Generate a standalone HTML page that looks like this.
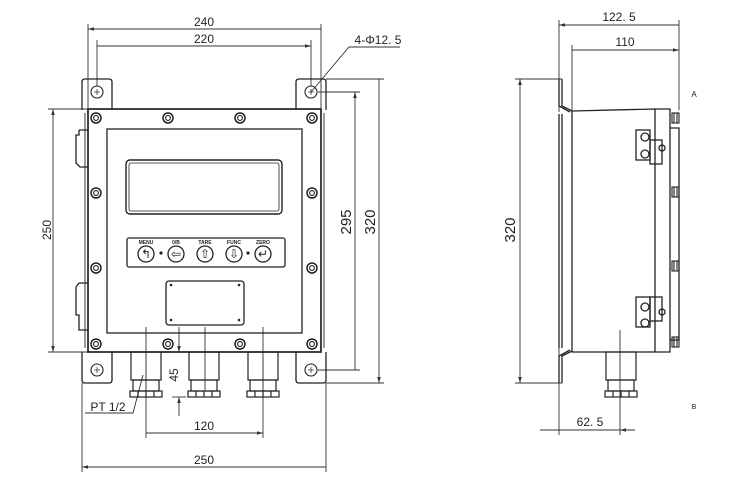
<!DOCTYPE html>
<html><head><meta charset="utf-8"><style>
html,body{margin:0;padding:0;background:#fff;}
svg{display:block;}
text{font-family:"Liberation Sans",sans-serif;fill:#222;}
</style></head><body>
<svg width="756" height="492" viewBox="0 0 756 492" xmlns="http://www.w3.org/2000/svg">
<defs>
<marker id="a" viewBox="0 0 10 6" refX="10" refY="3" markerWidth="9" markerHeight="4" orient="auto-start-reverse"><path d="M0,0L10,3L0,6z" fill="#333"/></marker>
<g id="scr"><circle r="5" fill="none" stroke="#222" stroke-width="1.5"/><circle r="2.4" fill="none" stroke="#222" stroke-width="1.1"/></g>
<g id="hole"><circle r="6" fill="none" stroke="#222" stroke-width="1.1"/><path d="M-3,0h6M0,-3v6" stroke="#333" stroke-width="0.8"/></g>
<g id="gland" fill="none" stroke="#222" stroke-width="1.2">
<rect x="0" y="0" width="30" height="28"/><rect x="2" y="28" width="26" height="11"/>
<rect x="-1" y="39" width="32" height="6"/><path d="M7,39v6M15,39v6M23,39v6"/></g>
<g id="knob" fill="none" stroke="#222" stroke-width="1.1"><rect x="0" y="-5" width="7" height="10"/><path d="M2,-5v10M5,-5v10"/></g>
</defs>
<g fill="none" stroke="#333" stroke-width="0.9">
<path d="M88,24V108M321,24V108M97,40V86M311,40V86"/>
<path d="M88,29H321M97,46H311" marker-start="url(#a)" marker-end="url(#a)"/>
<path d="M48,109H88M48,352H88"/>
<path d="M53,109V352" marker-start="url(#a)" marker-end="url(#a)"/>
<path d="M318,92H360M318,370H360M326,79H384M326,383H384"/>
<path d="M355,92V370M379,79V383" marker-start="url(#a)" marker-end="url(#a)"/>
<path d="M311,92L349,47H400"/>
<path d="M82,383V472M326,383V472M146,327V438M263,327V438"/>
<path d="M82,467H326M146,433H263" marker-start="url(#a)" marker-end="url(#a)"/>
<path d="M179,327V352" marker-end="url(#a)"/><path d="M179,416V397" marker-end="url(#a)"/>
<path d="M172,397H186"/>
<path d="M85,413H133L143,375"/>
<path d="M205,327V390M146,355V390M263,355V390"/>
</g>
<g fill="none" stroke="#222" stroke-width="1.3">
<path d="M82,110V82Q82,79 85,79H109Q112,79 112,82V110"/>
<path d="M296,110V82Q296,79 299,79H323Q326,79 326,82V110"/>
<path d="M82,352V380Q82,383 85,383H109Q112,383 112,380V352"/>
<path d="M296,352V380Q296,383 299,383H323Q326,383 326,380V352"/>
<rect x="88" y="109" width="233" height="243" stroke-width="1.7"/>
<path d="M85,113V348M324,113V348" stroke-width="0.9"/>
<rect x="107" y="129" width="195" height="204"/>
<rect x="126" y="160" width="156" height="54" rx="4" stroke-width="1.4"/>
<rect x="129" y="163" width="150" height="48" rx="2" stroke-width="0.8"/>
<rect x="127" y="238" width="158" height="29" rx="2"/>
<rect x="166" y="281" width="78" height="44" rx="3"/>
<path d="M79,130V135H76V163L80,167H88M79,130H88"/>
<path d="M79,283H88M76,287V315H79V330H88M76,287L79,283"/>
</g>
<g fill="#222"><circle cx="171" cy="285" r="1.3"/><circle cx="239" cy="285" r="1.3"/><circle cx="171" cy="320" r="1.3"/><circle cx="239" cy="320" r="1.3"/>
<circle cx="161" cy="253" r="1.6"/><circle cx="248" cy="253" r="1.6"/></g>
<use href="#hole" x="97" y="92"/><use href="#hole" x="311" y="92"/><use href="#hole" x="97" y="370"/><use href="#hole" x="311" y="370"/>
<use href="#scr" x="96" y="118"/><use href="#scr" x="168" y="118"/><use href="#scr" x="240" y="118"/><use href="#scr" x="312" y="118"/>
<use href="#scr" x="96" y="193"/><use href="#scr" x="312" y="193"/><use href="#scr" x="96" y="268"/><use href="#scr" x="312" y="268"/>
<use href="#scr" x="96" y="344"/><use href="#scr" x="168" y="344"/><use href="#scr" x="240" y="344"/><use href="#scr" x="312" y="344"/>
<g fill="none" stroke="#222" stroke-width="1.3">
<circle cx="146" cy="254" r="8"/><circle cx="176" cy="254" r="8"/><circle cx="205" cy="254" r="8"/><circle cx="234" cy="254" r="8"/><circle cx="263" cy="254" r="8"/>
</g>
<g font-size="5" font-weight="bold" text-anchor="middle"><text x="146" y="244">MENU</text><text x="176" y="244">0/B</text><text x="205" y="244">TARE</text><text x="234" y="244">FUNC</text><text x="263" y="244">ZERO</text></g>
<g font-size="12" text-anchor="middle" font-family="DejaVu Sans"><text x="146" y="258">↰</text><text x="176" y="258">⇦</text><text x="205" y="258">⇧</text><text x="234" y="258">⇩</text><text x="263" y="258">↵</text></g>
<use href="#gland" x="131" y="352"/><use href="#gland" x="189" y="352"/><use href="#gland" x="248" y="352"/>
<g font-size="12" text-anchor="middle">
<text x="204" y="26">240</text><text x="204" y="43">220</text>
<text x="378" y="44">4-Φ12. 5</text>
<text x="204" y="464">250</text><text x="204" y="430">120</text>
<text transform="translate(51,230) rotate(-90)">250</text>
<text transform="translate(351,222) rotate(-90)" font-size="15">295</text>
<text transform="translate(375,222) rotate(-90)" font-size="15">320</text>
<text transform="translate(178,375) rotate(-90)">45</text>
<text x="108" y="411">PT 1/2</text>
</g>
<g fill="none" stroke="#333" stroke-width="0.9">
<path d="M559,20V112M679,20V110M572,45V110M559,340V435M620,330V435"/>
<path d="M559,25H679M572,50H679" marker-start="url(#a)" marker-end="url(#a)"/>
<path d="M515,79H562M515,383H562"/>
<path d="M520,79V383" marker-start="url(#a)" marker-end="url(#a)"/>
<path d="M540,430H559M635,430H620" marker-end="url(#a)"/><path d="M559,430H620"/>
</g>
<g fill="none" stroke="#222" stroke-width="1.3">
<path d="M559,79V106L570,112M562,79V106L572,111"/>
<path d="M559,383V356L570,350M562,383V356L572,351"/>
<path d="M559,114V348M562,114V348"/>
<path d="M572,111L655,109V352H572Z"/>
<path d="M655,109H670V352H655"/><path d="M670,128H679V340H670"/>
<rect x="636" y="130" width="14" height="30"/><rect x="650" y="140" width="12" height="24"/>
<rect x="636" y="297" width="14" height="30"/><rect x="650" y="297" width="12" height="24"/>
<circle cx="645" cy="137" r="4"/><circle cx="645" cy="154" r="4"/><circle cx="662" cy="148" r="3"/>
<circle cx="645" cy="307" r="4"/><circle cx="645" cy="323" r="4"/><circle cx="662" cy="312" r="3"/>
</g>
<use href="#knob" x="672" y="118"/><use href="#knob" x="672" y="192"/><use href="#knob" x="672" y="266"/><use href="#knob" x="672" y="342"/>
<use href="#gland" x="606" y="352"/>
<g font-size="12" text-anchor="middle">
<text x="619" y="21">122. 5</text><text x="625" y="46">110</text>
<text transform="translate(515,230) rotate(-90)" font-size="15">320</text>
<text x="590" y="426">62. 5</text>
<text x="694" y="97" font-size="8">A</text><text x="694" y="409" font-size="7">B</text>
</g>
</svg>
</body></html>
